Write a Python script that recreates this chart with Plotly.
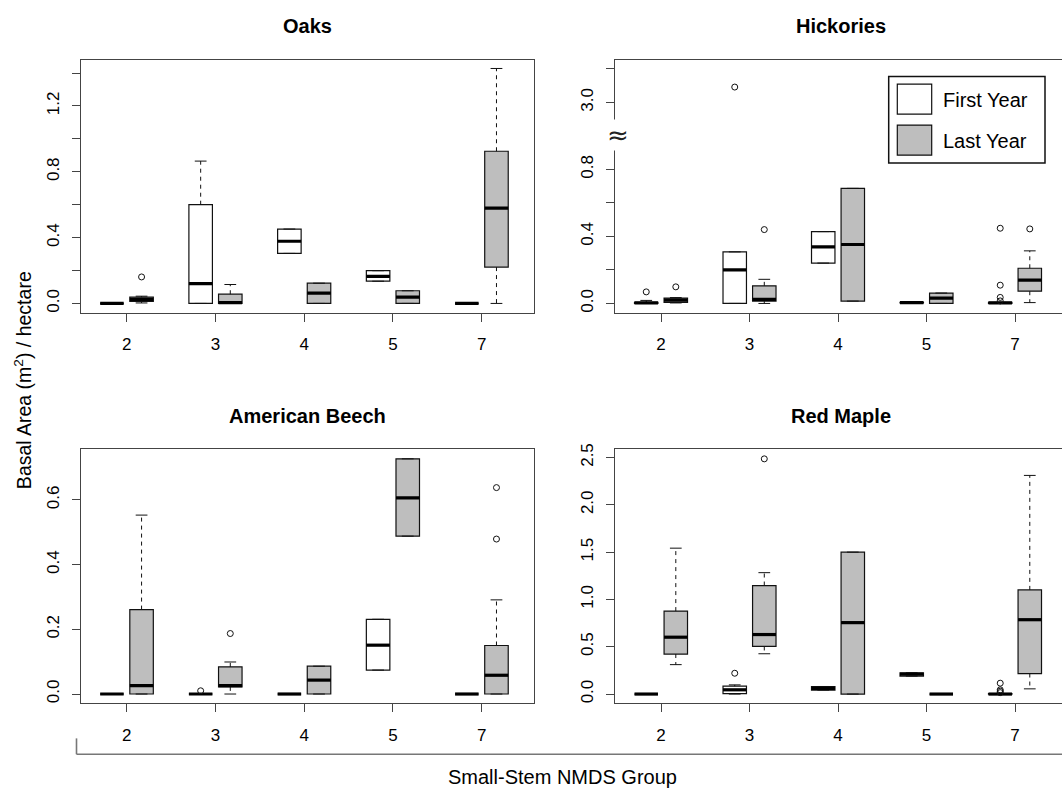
import plotly.graph_objects as go

W, H = 1062, 788
FONT = "Liberation Sans, Arial, Helvetica, sans-serif"

groups = ["2", "3", "4", "5", "7"]

# ---- Oaks ----
oaks_first_q1 = [0, 0, 0.304, 0.135, 0]
oaks_first_med = [0, 0.121, 0.378, 0.165, 0]
oaks_first_q3 = [0, 0.600, 0.452, 0.199, 0]
oaks_first_lo = [0, 0, 0.304, 0.135, 0]
oaks_first_hi = [0, 0.865, 0.452, 0.199, 0]
oaks_first_out = [[], [], [], [], []]

oaks_last_q1 = [0.012, 0, 0, 0, 0.221]
oaks_last_med = [0.025, 0.005, 0.063, 0.038, 0.579]
oaks_last_q3 = [0.038, 0.056, 0.123, 0.077, 0.925]
oaks_last_lo = [0.003, 0, 0, 0, 0]
oaks_last_hi = [0.044, 0.115, 0.123, 0.077, 1.428]
oaks_last_out = [[0.161], [], [], [], []]

# ---- Hickories ----
hick_first_q1 = [0, 0, 0.241, 0.003, 0]
hick_first_med = [0.003, 0.200, 0.338, 0.005, 0.003]
hick_first_q3 = [0.007, 0.308, 0.429, 0.007, 0.006]
hick_first_lo = [0, 0, 0.241, 0.003, 0]
hick_first_hi = [0.018, 0.308, 0.429, 0.007, 0.006]
hick_first_out = [[0.069], [3.092], [], [], [0.449, 0.109, 0.036, 0.015]]

hick_last_q1 = [0.006, 0.014, 0.014, 0.0, 0.073]
hick_last_med = [0.020, 0.024, 0.352, 0.032, 0.139]
hick_last_q3 = [0.032, 0.105, 0.687, 0.062, 0.210]
hick_last_lo = [0.003, 0.0, 0.014, 0.0, 0.005]
hick_last_hi = [0.035, 0.144, 0.687, 0.062, 0.314]
hick_last_out = [[0.099], [0.441], [], [], [0.445]]

# ---- American Beech ----
beech_first_q1 = [0, 0, 0, 0.074, 0]
beech_first_med = [0, 0, 0, 0.151, 0]
beech_first_q3 = [0, 0, 0, 0.231, 0]
beech_first_lo = [0, 0, 0, 0.074, 0]
beech_first_hi = [0, 0, 0, 0.231, 0]
beech_first_out = [[], [0.010], [], [], []]

beech_last_q1 = [0, 0.022, 0, 0.488, 0]
beech_last_med = [0.026, 0.026, 0.043, 0.606, 0.058]
beech_last_q3 = [0.261, 0.084, 0.086, 0.727, 0.150]
beech_last_lo = [0, 0, 0, 0.488, 0]
beech_last_hi = [0.553, 0.099, 0.086, 0.727, 0.291]
beech_last_out = [[], [0.187], [], [], [0.479, 0.638]]

# ---- Red Maple ----
maple_first_q1 = [0, 0.005, 0.042, 0.190, 0]
maple_first_med = [0, 0.045, 0.060, 0.210, 0]
maple_first_q3 = [0, 0.083, 0.080, 0.225, 0.005]
maple_first_lo = [0, 0, 0.042, 0.190, 0]
maple_first_hi = [0, 0.097, 0.080, 0.225, 0.005]
maple_first_out = [[], [0.220], [], [], [0.115, 0.045, 0.030, 0.015]]

maple_last_q1 = [0.423, 0.503, 0, 0, 0.217]
maple_last_med = [0.601, 0.629, 0.755, 0, 0.786]
maple_last_q3 = [0.877, 1.147, 1.500, 0, 1.101]
maple_last_lo = [0.311, 0.426, 0, 0, 0.055]
maple_last_hi = [1.542, 1.283, 1.500, 0, 2.311]
maple_last_out = [[], [2.486], [], [], []]

FIRST_OFF, LAST_OFF, BOX_W = -0.167, 0.167, 0.265
BOX_LINE = "#111111"
FILL_FIRST, FILL_LAST = "#ffffff", "#bebebe"


def hick_break(v):
    return v - 1.8 if v > 1.0 else v


def ident(v):
    return v


def add_series(fig, xa, ya, q1, med, q3, lo, hi, out, off, fill, tf=ident):
    pos = [i + 1 + off for i in range(len(groups))]
    T = lambda arr: [tf(v) for v in arr]
    fig.add_trace(go.Box(
        x=pos, q1=T(q1), median=T(med), q3=T(q3), lowerfence=T(q1), upperfence=T(q3),
        width=BOX_W, fillcolor=fill, line=dict(color=BOX_LINE, width=1.2),
        whiskerwidth=0, boxpoints=False, xaxis=xa, yaxis=ya,
        showlegend=False, hoverinfo="skip"))
    wx, wy = [], []
    cx, cy = [], []
    mx, my = [], []
    ox, oy = [], []
    for i, p in enumerate(pos):
        if hi[i] > q3[i]:
            wx += [p, p, None]; wy += [tf(q3[i]), tf(hi[i]), None]
        if lo[i] < q1[i]:
            wx += [p, p, None]; wy += [tf(q1[i]), tf(lo[i]), None]
        for v in (lo[i], hi[i]):
            cx += [p - BOX_W / 4, p + BOX_W / 4, None]; cy += [tf(v), tf(v), None]
        mx += [p - BOX_W / 2, p + BOX_W / 2, None]; my += [tf(med[i]), tf(med[i]), None]
        for v in out[i]:
            ox.append(p); oy.append(tf(v))
    fig.add_trace(go.Scatter(x=wx, y=wy, mode="lines", line=dict(color="#111", width=1, dash="4px,4px"),
                             xaxis=xa, yaxis=ya, showlegend=False, hoverinfo="skip"))
    fig.add_trace(go.Scatter(x=cx, y=cy, mode="lines", line=dict(color="#111", width=1),
                             xaxis=xa, yaxis=ya, showlegend=False, hoverinfo="skip"))
    fig.add_trace(go.Scatter(x=mx, y=my, mode="lines", line=dict(color="#000", width=3.2),
                             xaxis=xa, yaxis=ya, showlegend=False, hoverinfo="skip"))
    if ox:
        fig.add_trace(go.Scatter(x=ox, y=oy, mode="markers",
                                 marker=dict(symbol="circle-open", size=6, color="#111", line=dict(width=1)),
                                 xaxis=xa, yaxis=ya, showlegend=False, hoverinfo="skip"))


fig = go.Figure()
add_series(fig, "x", "y", oaks_first_q1, oaks_first_med, oaks_first_q3, oaks_first_lo, oaks_first_hi, oaks_first_out, FIRST_OFF, FILL_FIRST)
add_series(fig, "x", "y", oaks_last_q1, oaks_last_med, oaks_last_q3, oaks_last_lo, oaks_last_hi, oaks_last_out, LAST_OFF, FILL_LAST)
add_series(fig, "x2", "y2", hick_first_q1, hick_first_med, hick_first_q3, hick_first_lo, hick_first_hi, hick_first_out, FIRST_OFF, FILL_FIRST, hick_break)
add_series(fig, "x2", "y2", hick_last_q1, hick_last_med, hick_last_q3, hick_last_lo, hick_last_hi, hick_last_out, LAST_OFF, FILL_LAST, hick_break)
add_series(fig, "x3", "y3", beech_first_q1, beech_first_med, beech_first_q3, beech_first_lo, beech_first_hi, beech_first_out, FIRST_OFF, FILL_FIRST)
add_series(fig, "x3", "y3", beech_last_q1, beech_last_med, beech_last_q3, beech_last_lo, beech_last_hi, beech_last_out, LAST_OFF, FILL_LAST)
add_series(fig, "x4", "y4", maple_first_q1, maple_first_med, maple_first_q3, maple_first_lo, maple_first_hi, maple_first_out, FIRST_OFF, FILL_FIRST)
add_series(fig, "x4", "y4", maple_last_q1, maple_last_med, maple_last_q3, maple_last_lo, maple_last_hi, maple_last_out, LAST_OFF, FILL_LAST)


def PX(x):
    return x / W


def PY(y):
    return 1 - y / H


LEFT_DOM = [PX(80.7), PX(534)]
RIGHT_DOM = [PX(615), 1.0]
TOP_DOM = [PY(309), PY(54)]
BOT_DOM = [PY(702.3), PY(446.7)]

AX_COLOR = "#444444"


def xaxis(dom, rng, anchor):
    return dict(domain=dom, range=rng, anchor=anchor, tickmode="array",
                tickvals=[i + 1 for i in range(len(groups))], ticktext=groups,
                ticks="outside", ticklen=8, tickwidth=1, tickcolor=AX_COLOR,
                showline=True, linecolor=AX_COLOR, linewidth=1.3, mirror=True,
                showgrid=False, zeroline=False, ticklabelstandoff=8,
                tickfont=dict(family=FONT, size=17, color="#000"))


def yaxis(dom, rng, anchor, vals, texts, mirror=True):
    return dict(domain=dom, range=rng, anchor=anchor, tickmode="array",
                tickvals=vals, ticktext=texts, tickangle=-90,
                ticks="outside", ticklen=8, tickwidth=1, tickcolor=AX_COLOR,
                showline=True, linecolor=AX_COLOR, linewidth=1.3, mirror=mirror,
                showgrid=False, zeroline=False, ticklabelstandoff=6,
                tickfont=dict(family=FONT, size=17, color="#000"))


oaks_ticks = [0, 0.2, 0.4, 0.6, 0.8, 1.0, 1.2, 1.4]
oaks_ticktext = ["0.0", " ", "0.4", " ", "0.8", " ", "1.2", " "]
hick_ticks = [0, 0.2, 0.4, 0.6, 0.8, 3.0, 3.2]
hick_ticktext = ["0.0", " ", "0.4", " ", "0.8", "3.0", " "]
beech_ticks = [0, 0.2, 0.4, 0.6]
beech_ticktext = ["0.0", "0.2", "0.4", "0.6"]
maple_ticks = [0, 0.5, 1.0, 1.5, 2.0, 2.5]
maple_ticktext = ["0.0", "0.5", "1.0", "1.5", "2.0", "2.5"]

fig.update_layout(
    width=W, height=H, margin=dict(l=0, r=0, t=0, b=0),
    paper_bgcolor="white", plot_bgcolor="white", boxmode="overlay",
    font=dict(family=FONT, color="#000"),
    xaxis=xaxis(LEFT_DOM, [0.481, 5.59], "y"),
    yaxis=yaxis(TOP_DOM, [-0.056, 1.482], "x", oaks_ticks, oaks_ticktext),
    xaxis2=xaxis(RIGHT_DOM, [0.48, 5.531], "y2"),
    yaxis2=yaxis(TOP_DOM, [-0.055, 1.456], "x2", [hick_break(v) for v in hick_ticks], hick_ticktext, mirror=False),
    xaxis3=xaxis(LEFT_DOM, [0.481, 5.59], "y3"),
    yaxis3=yaxis(BOT_DOM, [-0.0276, 0.7564], "x3", beech_ticks, beech_ticktext),
    xaxis4=xaxis(RIGHT_DOM, [0.48, 5.531], "y4"),
    yaxis4=yaxis(BOT_DOM, [-0.094, 2.587], "x4", maple_ticks, maple_ticktext, mirror=False),
)

titles = [("Oaks", (80.7 + 534) / 2, 20), ("Hickories", (615 + 1067) / 2, 20),
          ("American Beech", (80.7 + 534) / 2, 413), ("Red Maple", (615 + 1067) / 2, 413)]
ann = []
for t, x, y in titles:
    ann.append(dict(text="<b>%s</b>" % t, x=PX(x), y=PY(y), xref="paper", yref="paper",
                    showarrow=False, xanchor="center", yanchor="middle",
                    font=dict(family=FONT, size=20, color="#000")))
ann.append(dict(text="Basal Area (m<sup>2</sup>) / hectare", x=PX(23), y=PY(377), xref="paper", yref="paper",
                showarrow=False, textangle=-90, xanchor="center", yanchor="middle",
                font=dict(family=FONT, size=19.5, color="#000")))
ann.append(dict(text="Small-Stem NMDS Group", x=PX(562), y=PY(777), xref="paper", yref="paper",
                showarrow=False, xanchor="center", yanchor="middle",
                font=dict(family=FONT, size=20, color="#000")))
ann.append(dict(text="First Year", x=PX(941), y=PY(94.5), xref="paper", yref="paper", showarrow=False,
                xanchor="left", yanchor="middle", font=dict(family=FONT, size=20, color="#000")))
ann.append(dict(text="Last Year", x=PX(941), y=PY(136), xref="paper", yref="paper", showarrow=False,
                xanchor="left", yanchor="middle", font=dict(family=FONT, size=20, color="#000")))
# axis break symbol
ann.append(dict(text="≈", x=PX(618), y=PY(129.5), xref="paper", yref="paper", showarrow=False,
                xanchor="center", yanchor="middle", bgcolor="white", borderpad=0,
                font=dict(family="DejaVu Sans, sans-serif", size=26, color="#222")))
fig.update_layout(annotations=ann)

shapes = [
    dict(type="rect", xref="paper", yref="paper", x0=PX(888.7), x1=PX(1045), y0=PY(158.3), y1=PY(71),
         line=dict(color="#111", width=1.5), fillcolor="white", layer="above"),
    dict(type="rect", xref="paper", yref="paper", x0=PX(897.3), x1=PX(931.7), y0=PY(109), y1=PY(78.7),
         line=dict(color="#111", width=1.2), fillcolor=FILL_FIRST, layer="above"),
    dict(type="rect", xref="paper", yref="paper", x0=PX(897.3), x1=PX(931.7), y0=PY(150.3), y1=PY(120),
         line=dict(color="#111", width=1.2), fillcolor=FILL_LAST, layer="above"),
    dict(type="line", xref="paper", yref="paper", x0=PX(76.5), x1=1.0, y0=PY(754), y1=PY(754),
         line=dict(color="#777", width=1.6)),
    dict(type="line", xref="paper", yref="paper", x0=PX(76.5), x1=PX(76.5), y0=PY(738), y1=PY(754),
         line=dict(color="#777", width=1.6)),
]
fig.update_layout(shapes=shapes)

fig.write_html("out.html")
